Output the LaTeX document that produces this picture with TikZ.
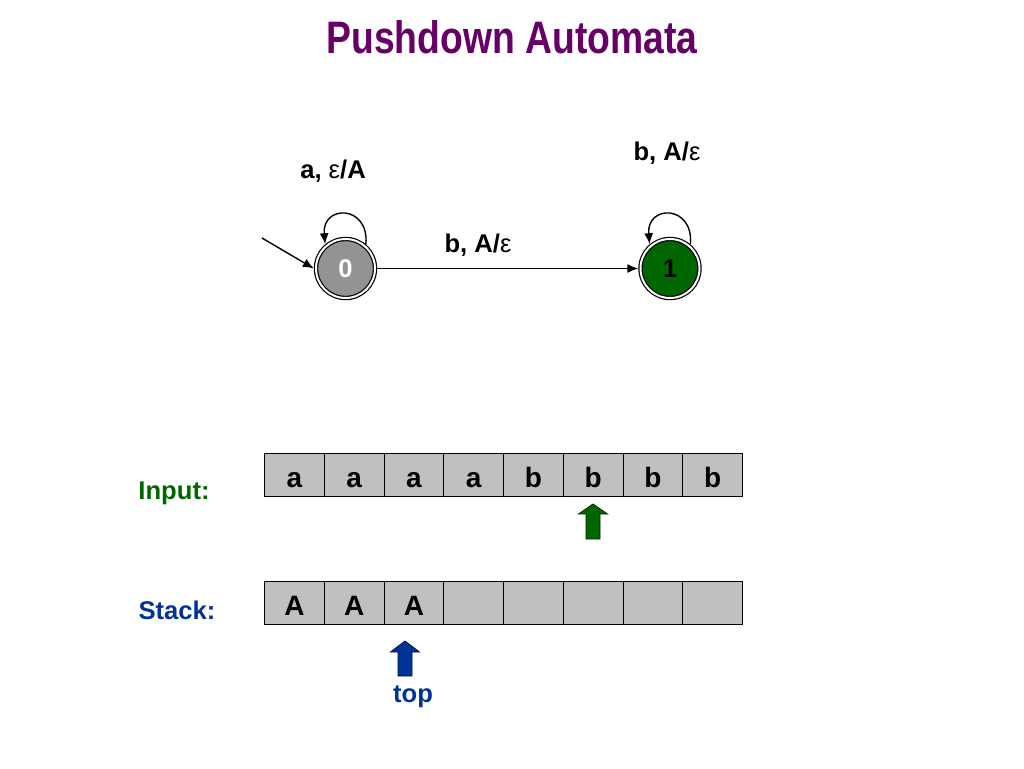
\documentclass[tikz,border=0pt]{standalone}
\usepackage{fontspec}
\setmainfont{Liberation Sans}
\usetikzlibrary{arrows.meta}
\definecolor{titlepurple}{HTML}{660066}
\definecolor{ingreen}{HTML}{006600}
\definecolor{stblue}{HTML}{003399}
\definecolor{cellgray}{HTML}{C0C0C0}
\definecolor{stategray}{HTML}{939393}
\definecolor{stategreen}{HTML}{006600}
\begin{document}
\begin{tikzpicture}[x=1pt,y=1pt,
 lbl/.style={font=\fontsize{25.6}{30}\selectfont\bfseries, inner sep=0},
 cell/.style={draw=black, line width=1.2pt, fill=cellgray, minimum width=59.75pt, minimum height=43pt, inner sep=0, text height=25pt, text depth=0pt, font=\fontsize{28}{30}\selectfont\bfseries, anchor=north west},
 state/.style={circle, draw=black, line width=1.2pt, double=white, double distance=2pt, minimum size=59pt, inner sep=0, outer sep=2.2pt, font=\fontsize{25.6}{30}\selectfont\bfseries},
 edge/.style={-{Latex[length=11pt,width=9pt]}, line width=1.4pt},
 blockarrow/.style={line width=0.8pt}
]
\useasboundingbox (0,0) rectangle (1024,-768);
\fill[white] (0,0) rectangle (1024,-768);
% title
\node (title) at (512,-37) [text=titlepurple, font=\fontsize{45.5}{50}\selectfont\bfseries, inner sep=0] {\scalebox{0.82}[1]{Pushdown Automata}};
% states
\node[state, fill=stategray, text=white] (q0) at (345.5,-268.5) {0};
\node[state, fill=stategreen, text=black] (q1) at (670,-268.5) {1};
\coordinate (init) at (262,-238);
\draw[edge] (init) -- (q0.west);
\draw[edge] (q0) -- (q1);
\draw[edge] (q0.50) .. controls +(85:40) and +(95:40) .. (q0.130);
\draw[edge] (q1.50) .. controls +(85:40) and +(95:40) .. (q1.130);
\node[lbl] (l00) at (333,-171) {a, {\mdseries ε}/A};
\node[lbl] (l01) at (478,-245) {b, A/{\mdseries ε}};
\node[lbl] (l11) at (667,-153) {b, A/{\mdseries ε}};
% tape
\foreach \l [count=\i from 0] in {a,a,a,a,b,b,b,b}
  \node[cell] (in\i) at (264+59.75*\i,-453) {\l};
\foreach \l [count=\i from 0] in {A,A,A,{},{},{},{},{}}
  \node[cell] (st\i) at (264+59.75*\i,-581) {\l};
\node[lbl, text=ingreen] (inlab) at (174,-493) {Input:};
\node[lbl, text=stblue] (stlab) at (177,-610) {Stack:};
% head arrows
\draw[blockarrow, fill=ingreen, draw=black!60!ingreen] (586,-539) -- (586,-514) -- (578.5,-514) -- (593,-504) -- (607.5,-514) -- (600,-514) -- (600,-539) -- cycle;
\draw[blockarrow, fill=stblue, draw=black!60!stblue] (398,-676) -- (398,-652) -- (390.5,-652) -- (405,-641) -- (419.5,-652) -- (412,-652) -- (412,-676) -- cycle;
\node[lbl, text=stblue] (toplab) at (413,-697) {top};
\end{tikzpicture}
\end{document}
